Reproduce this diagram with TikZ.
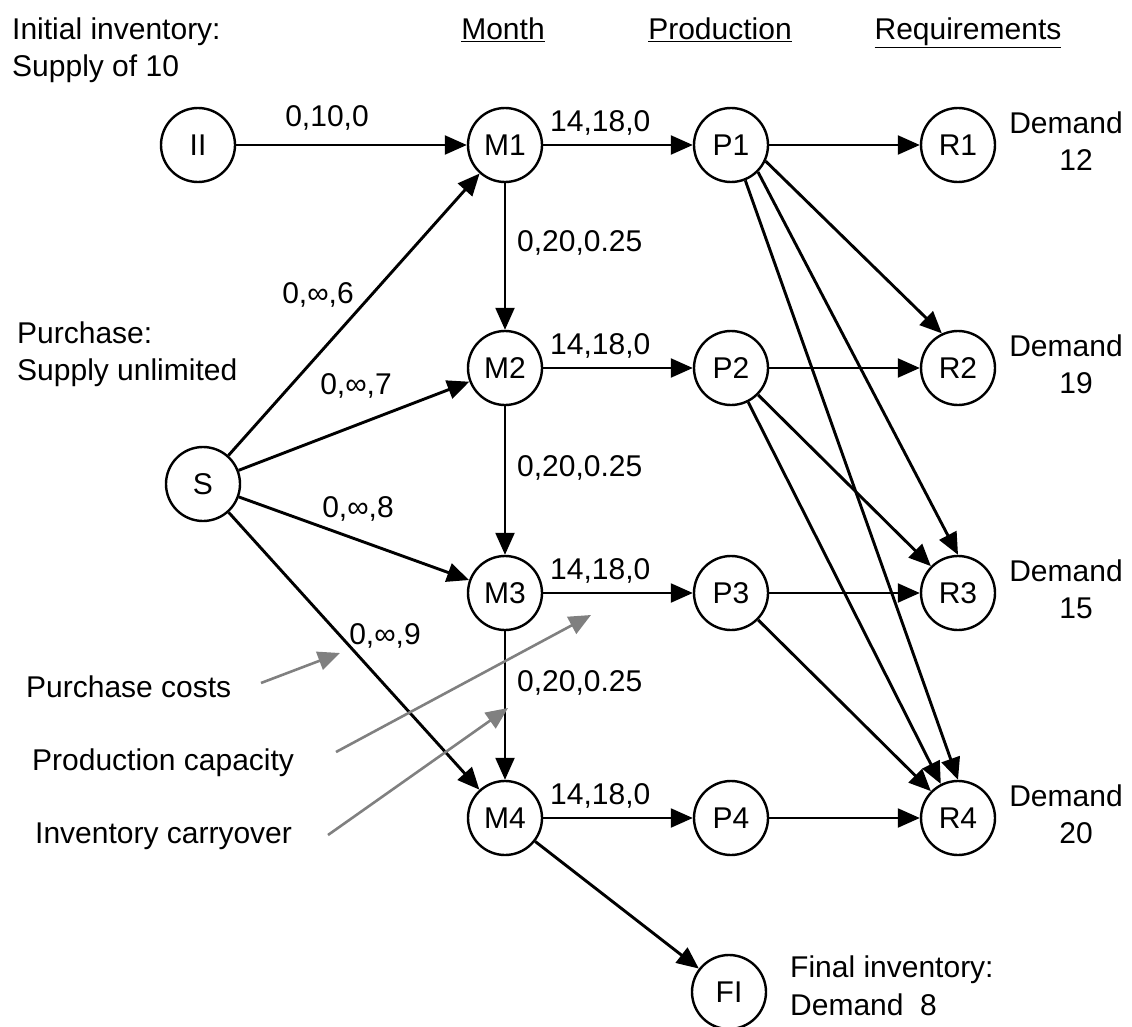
\documentclass[tikz,border=0pt]{standalone}
\usepackage{fontspec}
\setmainfont{Liberation Sans}
\usetikzlibrary{arrows.meta}
\definecolor{notegray}{RGB}{128,128,128}
\begin{document}
\begin{tikzpicture}[x=1pt,y=-1pt,
  every node/.style={font=\fontsize{30}{34}\selectfont},
  nd/.style={circle,draw,line width=2.4pt,minimum size=74pt,inner sep=0pt},
  lab/.style={inner sep=0pt},
  tip/.style={-{Triangle[length=22pt,width=19pt]}},
  edge/.style={tip,line width=2.3pt},
  dedge/.style={tip,line width=2.9pt},
  note/.style={tip,line width=2.6pt,draw=notegray,fill=notegray}
]
\useasboundingbox (0,0) rectangle (1132,1027);

% headers and side texts
\node[lab,anchor=base west] (t1) at (12,40) {Initial inventory:};
\node[lab,anchor=base west] (t2) at (12,77) {Supply of 10};
\node[lab,anchor=base] (hM) at (503,40) {\underline{Month}};
\node[lab,anchor=base] (hP) at (720,40) {\underline{Production}};
\node[lab,anchor=base] (hR) at (968,40) {\underline{Requirements}};
\node[lab,anchor=base west] (t3) at (17,343) {Purchase:};
\node[lab,anchor=base west] (t4) at (17,380) {Supply unlimited};
\node[lab,anchor=base west] (t5) at (26,697) {Purchase costs};
\node[lab,anchor=base west] (t6) at (32,770) {Production capacity};
\node[lab,anchor=base west] (t7) at (35,843) {Inventory carryover};
\node[lab,anchor=base west] (t8) at (790,977) {Final inventory:};
\node[lab,anchor=base west] (t9) at (790,1015) {Demand\ \ 8};

% nodes
\node[nd] (II) at (198,145) {II};
\node[nd] (S)  at (203,484) {S};
\node[nd] (M1) at (505,145) {M1};
\node[nd] (M2) at (505,368) {M2};
\node[nd] (M3) at (505,593) {M3};
\node[nd] (M4) at (505,818) {M4};
\node[nd] (P1) at (731,145) {P1};
\node[nd] (P2) at (731,368) {P2};
\node[nd] (P3) at (731,593) {P3};
\node[nd] (P4) at (731,818) {P4};
\node[nd] (R1) at (958,145) {R1};
\node[nd] (R2) at (958,368) {R2};
\node[nd] (R3) at (958,593) {R3};
\node[nd] (R4) at (958,818) {R4};
\node[nd] (FI) at (729,992) {FI};

% demand texts
\foreach \r/\y/\d in {1/145/12,2/368/19,3/593/15,4/818/20}{
  \node[lab] (D\r) at (1066,\y-22) {Demand};
  \node[lab] (N\r) at (1076,\y+15) {\d};
}

% edges
\draw[edge] (II) -- (M1);
\draw[dedge] (S) -- (M1);
\draw[dedge] (S) -- (M2);
\draw[dedge] (S) -- (M3);
\draw[dedge] (S) -- (M4);
\draw[edge] (M1) -- (M2);
\draw[edge] (M2) -- (M3);
\draw[edge] (M3) -- (M4);
\foreach \i in {1,2,3,4}{
  \draw[edge] (M\i) -- (P\i);
  \draw[edge] (P\i) -- (R\i);
}
\draw[dedge] (P1.-25) -- (R2.115);
\draw[dedge] (P1.-45) -- (R3.north);
\draw[dedge] (P1.-68) -- (R4.north);
\draw[dedge] (P2) -- (R3);
\draw[dedge] (P2) -- (R4);
\draw[dedge] (P3) -- (R4);
\draw[dedge] (M4) -- (FI);

% edge labels
\node[lab] (l0) at (327,118) {0,10,0};
\node[lab] (l6) at (318,295) {0,∞,6};
\node[lab] (l7) at (356,386) {0,∞,7};
\node[lab] (l8) at (358,509) {0,∞,8};
\node[lab] (l9) at (385,636) {0,∞,9};
\foreach \r/\y in {1/145,2/368,3/593,4/818}{
  \node[lab,anchor=west] (c\r) at (550,\y-22) {14,18,0};
}
\node[lab,anchor=west] (v1) at (517,243) {0,20,0.25};
\node[lab,anchor=west] (v2) at (517,468) {0,20,0.25};
\node[lab,anchor=west] (v3) at (517,683) {0,20,0.25};

% gray pointer arrows
\coordinate (a1) at (261,683); \coordinate (b1) at (340,653);
\coordinate (a2) at (336,752); \coordinate (b2) at (591,615);
\coordinate (a3) at (328,835); \coordinate (b3) at (508,708);
\draw[note] (a1) -- (b1);
\draw[note] (a2) -- (b2);
\draw[note] (a3) -- (b3);
\end{tikzpicture}
\end{document}
